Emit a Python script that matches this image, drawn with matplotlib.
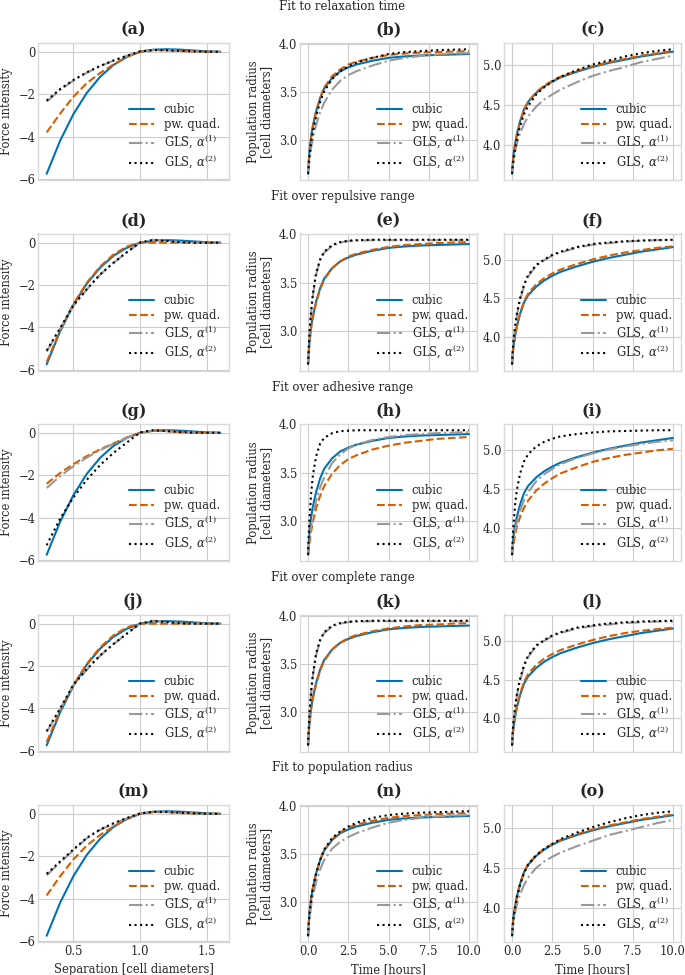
import matplotlib
matplotlib.use('Agg')
import matplotlib.pyplot as plt

plt.style.use('seaborn-v0_8-whitegrid')
plt.rcParams['font.family'] = 'serif'
plt.rcParams['font.serif'] = ['DejaVu Serif']
plt.rcParams['mathtext.fontset'] = 'dejavuserif'

# ---- data ----
sep = [0.3, 0.4, 0.5, 0.6, 0.7, 0.8, 0.9, 1.0, 1.1, 1.2, 1.3, 1.4, 1.5, 1.6]
time = [0, 0.05, 0.1, 0.2, 0.3, 0.5, 0.75, 1.0, 1.5, 2.0, 2.5, 3.0, 4.0, 5.0, 6.0, 7.0, 8.0, 9.0, 10.0]

force_cubic = [-5.75, -4.20, -2.94, -1.94, -1.18, -0.62, -0.24, 0.0, 0.10, 0.12, 0.10, 0.06, 0.02, 0.0]
rad_cubic_b = [2.65, 2.80, 2.90, 3.05, 3.15, 3.30, 3.44, 3.54, 3.65, 3.72, 3.76, 3.79, 3.83, 3.86, 3.875, 3.885, 3.89, 3.895, 3.90]
rad_cubic_c = [3.65, 3.80, 3.90, 4.03, 4.14, 4.30, 4.45, 4.54, 4.65, 4.73, 4.79, 4.84, 4.91, 4.97, 5.02, 5.06, 5.10, 5.13, 5.16]

# force panels (a, d, g, j, m)
pwq_a = [-3.80, -2.92, -2.12, -1.48, -1.00, -0.60, -0.25, 0.0, 0.08, 0.08, 0.04, 0.01, 0.0, 0.0]
gls1_a = [-2.35, -1.80, -1.36, -0.99, -0.68, -0.42, -0.19, 0.02, 0.09, 0.07, 0.04, 0.02, 0.0, 0.0]
gls2_a = [-2.30, -1.76, -1.33, -0.97, -0.67, -0.41, -0.19, 0.02, 0.08, 0.07, 0.04, 0.02, 0.0, 0.0]
pwq_d = [-5.65, -4.15, -2.90, -1.90, -1.13, -0.56, -0.18, 0.0, 0.0, 0.0, 0.0, 0.0, 0.0, 0.0]
gls1_d = [-5.15, -4.08, -3.00, -2.22, -1.52, -0.96, -0.46, 0.0, 0.14, 0.09, 0.03, 0.01, 0.0, 0.0]
gls2_d = [-5.10, -4.05, -2.96, -2.20, -1.50, -0.95, -0.45, 0.01, 0.13, 0.08, 0.02, 0.0, 0.0, 0.0]
pwq_g = [-2.40, -1.90, -1.48, -1.10, -0.78, -0.50, -0.22, 0.0, 0.10, 0.08, 0.03, 0.0, 0.0, 0.0]
gls1_g = [-2.60, -2.05, -1.58, -1.17, -0.82, -0.52, -0.24, 0.0, 0.10, 0.08, 0.03, 0.01, 0.0, 0.0]
gls2_g = [-5.30, -4.05, -3.05, -2.22, -1.52, -0.95, -0.46, 0.02, 0.12, 0.08, 0.03, 0.01, 0.0, 0.0]
pwq_j = [-5.60, -4.12, -2.90, -1.90, -1.12, -0.55, -0.17, 0.0, 0.0, 0.0, 0.0, 0.0, 0.0, 0.0]
gls1_j = [-5.12, -4.05, -2.92, -2.18, -1.52, -0.97, -0.48, 0.0, 0.14, 0.09, 0.03, 0.01, 0.0, 0.0]
gls2_j = [-5.08, -4.02, -2.88, -2.15, -1.50, -0.96, -0.47, 0.01, 0.13, 0.08, 0.02, 0.0, 0.0, 0.0]
pwq_m = [-3.85, -2.95, -2.15, -1.50, -1.00, -0.60, -0.25, 0.0, 0.08, 0.08, 0.04, 0.01, 0.0, 0.0]
gls1_m = [-2.90, -2.30, -1.72, -1.16, -0.76, -0.47, -0.21, 0.02, 0.10, 0.09, 0.05, 0.02, 0.0, 0.0]
gls2_m = [-2.83, -2.25, -1.68, -1.13, -0.74, -0.45, -0.20, 0.02, 0.09, 0.08, 0.05, 0.02, 0.0, 0.0]

# radius panels, middle column (b, e, h, k, n)
pwq_b = [2.65, 2.79, 2.89, 3.04, 3.14, 3.30, 3.44, 3.55, 3.67, 3.74, 3.79, 3.82, 3.86, 3.89, 3.905, 3.915, 3.92, 3.925, 3.93]
gls1_b = [2.65, 2.74, 2.81, 2.93, 3.02, 3.16, 3.29, 3.39, 3.53, 3.62, 3.68, 3.72, 3.78, 3.83, 3.86, 3.88, 3.895, 3.905, 3.91]
gls2_b = [2.65, 2.76, 2.85, 2.99, 3.09, 3.25, 3.40, 3.51, 3.64, 3.72, 3.77, 3.81, 3.86, 3.90, 3.92, 3.93, 3.94, 3.945, 3.95]
pwq_e = [2.65, 2.79, 2.89, 3.04, 3.14, 3.29, 3.43, 3.53, 3.65, 3.72, 3.77, 3.80, 3.84, 3.87, 3.89, 3.90, 3.91, 3.915, 3.92]
gls1_e = [2.65, 2.84, 2.99, 3.20, 3.36, 3.58, 3.73, 3.81, 3.88, 3.915, 3.93, 3.935, 3.94, 3.94, 3.94, 3.94, 3.94, 3.94, 3.94]
gls2_e = [2.65, 2.85, 3.00, 3.22, 3.38, 3.60, 3.74, 3.82, 3.89, 3.92, 3.935, 3.94, 3.945, 3.945, 3.945, 3.945, 3.945, 3.945, 3.945]
pwq_h = [2.65, 2.73, 2.79, 2.90, 2.99, 3.13, 3.26, 3.36, 3.49, 3.58, 3.64, 3.68, 3.74, 3.78, 3.81, 3.83, 3.85, 3.86, 3.87]
gls1_h = [2.65, 2.75, 2.82, 2.95, 3.05, 3.21, 3.35, 3.45, 3.60, 3.69, 3.75, 3.79, 3.84, 3.87, 3.89, 3.90, 3.91, 3.915, 3.92]
gls2_h = [2.65, 2.88, 3.05, 3.30, 3.47, 3.67, 3.80, 3.86, 3.91, 3.93, 3.935, 3.94, 3.94, 3.94, 3.94, 3.94, 3.94, 3.94, 3.94]
pwq_k = [2.65, 2.79, 2.89, 3.04, 3.14, 3.29, 3.43, 3.53, 3.65, 3.72, 3.77, 3.80, 3.84, 3.87, 3.89, 3.905, 3.91, 3.92, 3.925]
gls1_k = [2.65, 2.85, 3.00, 3.21, 3.37, 3.59, 3.74, 3.82, 3.89, 3.92, 3.935, 3.94, 3.945, 3.945, 3.945, 3.945, 3.945, 3.945, 3.945]
gls2_k = [2.65, 2.86, 3.01, 3.23, 3.39, 3.61, 3.75, 3.83, 3.90, 3.925, 3.94, 3.945, 3.95, 3.95, 3.95, 3.95, 3.95, 3.95, 3.95]
pwq_n = [2.65, 2.80, 2.90, 3.05, 3.15, 3.30, 3.44, 3.54, 3.66, 3.73, 3.78, 3.81, 3.85, 3.88, 3.90, 3.91, 3.92, 3.925, 3.93]
gls1_n = [2.65, 2.76, 2.84, 2.97, 3.07, 3.21, 3.34, 3.44, 3.56, 3.63, 3.68, 3.72, 3.78, 3.83, 3.86, 3.88, 3.895, 3.905, 3.91]
gls2_n = [2.65, 2.79, 2.89, 3.04, 3.14, 3.30, 3.44, 3.55, 3.67, 3.74, 3.79, 3.83, 3.88, 3.91, 3.925, 3.935, 3.94, 3.945, 3.95]

# radius panels, right column (c, f, i, l, o)
pwq_c = [3.65, 3.79, 3.89, 4.02, 4.13, 4.29, 4.44, 4.54, 4.66, 4.74, 4.80, 4.85, 4.92, 4.98, 5.03, 5.07, 5.11, 5.14, 5.17]
gls1_c = [3.65, 3.74, 3.81, 3.93, 4.02, 4.15, 4.27, 4.36, 4.48, 4.57, 4.63, 4.69, 4.78, 4.86, 4.92, 4.97, 5.03, 5.07, 5.11]
gls2_c = [3.65, 3.76, 3.84, 3.98, 4.08, 4.24, 4.39, 4.49, 4.63, 4.72, 4.79, 4.85, 4.93, 5.00, 5.05, 5.10, 5.14, 5.17, 5.19]
pwq_f = [3.65, 3.80, 3.90, 4.03, 4.14, 4.31, 4.46, 4.56, 4.68, 4.76, 4.82, 4.87, 4.94, 5.00, 5.05, 5.09, 5.12, 5.15, 5.17]
gls1_f = [3.65, 3.84, 3.97, 4.14, 4.28, 4.48, 4.66, 4.78, 4.92, 4.99, 5.05, 5.09, 5.15, 5.19, 5.21, 5.23, 5.24, 5.25, 5.25]
gls2_f = [3.65, 3.85, 3.98, 4.15, 4.30, 4.50, 4.68, 4.80, 4.93, 5.00, 5.06, 5.10, 5.16, 5.20, 5.22, 5.235, 5.245, 5.25, 5.255]
pwq_i = [3.65, 3.74, 3.80, 3.92, 4.01, 4.14, 4.26, 4.35, 4.48, 4.57, 4.64, 4.70, 4.78, 4.85, 4.90, 4.94, 4.97, 5.00, 5.02]
gls1_i = [3.65, 3.76, 3.84, 3.97, 4.07, 4.22, 4.36, 4.46, 4.60, 4.69, 4.76, 4.82, 4.90, 4.96, 5.01, 5.05, 5.08, 5.11, 5.13]
gls2_i = [3.65, 3.90, 4.07, 4.32, 4.49, 4.70, 4.86, 4.95, 5.05, 5.11, 5.15, 5.18, 5.21, 5.23, 5.245, 5.25, 5.255, 5.26, 5.26]
pwq_l = [3.65, 3.80, 3.90, 4.04, 4.15, 4.32, 4.47, 4.57, 4.69, 4.77, 4.83, 4.88, 4.95, 5.01, 5.06, 5.10, 5.13, 5.15, 5.17]
gls1_l = [3.65, 3.84, 3.97, 4.15, 4.29, 4.49, 4.67, 4.79, 4.93, 5.00, 5.06, 5.10, 5.16, 5.19, 5.21, 5.23, 5.24, 5.25, 5.25]
gls2_l = [3.65, 3.85, 3.98, 4.16, 4.31, 4.51, 4.69, 4.81, 4.94, 5.01, 5.07, 5.11, 5.17, 5.20, 5.225, 5.24, 5.25, 5.255, 5.26]
pwq_o = [3.65, 3.80, 3.90, 4.03, 4.14, 4.30, 4.45, 4.55, 4.66, 4.74, 4.80, 4.85, 4.92, 4.98, 5.03, 5.07, 5.11, 5.14, 5.17]
gls1_o = [3.65, 3.75, 3.83, 3.95, 4.04, 4.17, 4.29, 4.38, 4.50, 4.58, 4.64, 4.69, 4.77, 4.84, 4.91, 4.96, 5.01, 5.06, 5.10]
gls2_o = [3.65, 3.79, 3.89, 4.02, 4.13, 4.29, 4.44, 4.54, 4.66, 4.74, 4.80, 4.86, 4.94, 5.01, 5.07, 5.12, 5.16, 5.19, 5.21]

row_titles = ['Fit to relaxation time', 'Fit over repulsive range', 'Fit over adhesive range',
              'Fit over complete range', 'Fit to population radius']
panel_labels = list('abcdefghijklmno')

force_rows = [(pwq_a, gls1_a, gls2_a), (pwq_d, gls1_d, gls2_d), (pwq_g, gls1_g, gls2_g),
              (pwq_j, gls1_j, gls2_j), (pwq_m, gls1_m, gls2_m)]
mid_rows = [(pwq_b, gls1_b, gls2_b), (pwq_e, gls1_e, gls2_e), (pwq_h, gls1_h, gls2_h),
            (pwq_k, gls1_k, gls2_k), (pwq_n, gls1_n, gls2_n)]
right_rows = [(pwq_c, gls1_c, gls2_c), (pwq_f, gls1_f, gls2_f), (pwq_i, gls1_i, gls2_i),
              (pwq_l, gls1_l, gls2_l), (pwq_o, gls1_o, gls2_o)]

# ---- figure ----
W, H = 685, 975
fig = plt.figure(figsize=(W / 100, H / 100), dpi=100)

col_x = [(38, 191), (300, 177), (504, 177)]
ax_h = 137
fs = 8.3


def add_ax(row, col):
    x0, w = col_x[col]
    top = 43 + 190.5 * row
    return fig.add_axes([x0 / W, 1 - (top + ax_h) / H, w / W, ax_h / H])


styles = [dict(color='#0072B2', ls='-', label='cubic'),
          dict(color='#D55E00', ls='--', label='pw. quad.'),
          dict(color='0.6', ls='-.', label=r'GLS, $\alpha^{(1)}$'),
          dict(color='black', ls=':', label=r'GLS, $\alpha^{(2)}$')]


def draw(ax, x, curves):
    for y, st in zip(curves, styles):
        ax.plot(x, y, lw=1.5, **st)
    ax.legend(loc='lower right', frameon=False, fontsize=fs, handlelength=2.2,
              labelspacing=0.2, borderaxespad=0.4)
    ax.tick_params(labelsize=fs, pad=2)
    for sp in ax.spines.values():
        sp.set_color('0.85')


for r in range(5):
    fig.text(0.5, 1 - (6 + 190.5 * r) / H, row_titles[r], ha='center', va='center', fontsize=8.5)

    ax = add_ax(r, 0)
    draw(ax, sep, [force_cubic] + list(force_rows[r]))
    ax.set_xticks([0.5, 1.0, 1.5])
    ax.set_yticks([-6, -4, -2, 0])
    ax.set_ylabel('Force intensity', fontsize=fs)
    ax.set_title('(%s)' % panel_labels[3 * r], fontweight='bold', fontsize=11.5, pad=6)

    ax2 = add_ax(r, 1)
    draw(ax2, time, [rad_cubic_b] + list(mid_rows[r]))
    ax2.set_xticks([0, 2.5, 5, 7.5, 10])
    ax2.set_yticks([3.0, 3.5, 4.0])
    ax2.set_ylabel('Population radius\n[cell diameters]', fontsize=fs, linespacing=1.0)
    ax2.set_title('(%s)' % panel_labels[3 * r + 1], fontweight='bold', fontsize=11.5, pad=6)

    ax3 = add_ax(r, 2)
    draw(ax3, time, [rad_cubic_c] + list(right_rows[r]))
    ax3.set_xticks([0, 2.5, 5, 7.5, 10])
    ax3.set_yticks([4.0, 4.5, 5.0])
    ax3.set_title('(%s)' % panel_labels[3 * r + 2], fontweight='bold', fontsize=11.5, pad=6)

    if r < 4:
        for a in (ax, ax2, ax3):
            a.tick_params(labelbottom=False)
    else:
        ax.set_xlabel('Separation [cell diameters]', fontsize=fs)
        ax2.set_xlabel('Time [hours]', fontsize=fs)
        ax3.set_xlabel('Time [hours]', fontsize=fs)

fig.savefig('out.png', dpi=100)
